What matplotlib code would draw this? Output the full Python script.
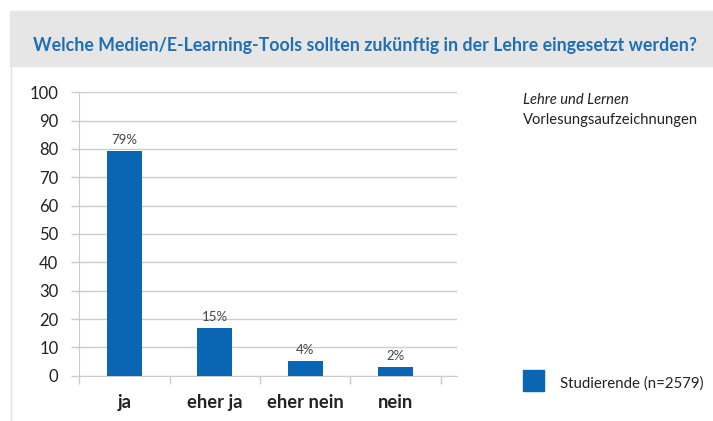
import matplotlib
matplotlib.use("Agg")
import matplotlib.pyplot as plt
from matplotlib.patches import Rectangle
from matplotlib.lines import Line2D

categories = ["ja", "eher ja", "eher nein", "nein"]
values = [79.3, 16.9, 5.3, 3.0]
value_labels = ["79%", "15%", "4%", "2%"]
y_ticks = [0, 10, 20, 30, 40, 50, 60, 70, 80, 90, 100]

title = "Welche Medien/E-Learning-Tools sollten zukünftig in der Lehre eingesetzt werden?"
side_heading = "Lehre und Lernen"
side_topic = "Vorlesungsaufzeichnungen"
series_name = "Studierende (n=2579)"

BAR = "#0a66b2"
TITLE_BLUE = "#1f6fb5"
GRID = "#cccccc"
TEXT = "#222222"

plt.rcParams["font.family"] = ["Lato", "DejaVu Sans"]

W, H = 713, 421
fig = plt.figure(figsize=(W / 100, H / 100), dpi=100)
fig.patch.set_facecolor("white")


def fx(px):
    return px / W


def fy(py):
    return 1 - py / H


# title band and left border
fig.patches.append(Rectangle((fx(10), fy(66)), fx(713 - 10), 55 / H,
                             transform=fig.transFigure, color="#e6e6e6", zorder=0))
fig.lines.append(Line2D([fx(11), fx(11)], [fy(66), 0], transform=fig.transFigure,
                        color="#e0e0e0", lw=1))
t = fig.text(fx(33), fy(45), title, color=TITLE_BLUE, fontsize=11.5,
             fontweight="bold", ha="left", va="center")

ax = fig.add_axes([fx(79.3), fy(375.7), fx(457.3 - 79.3), (375.7 - 92.3) / H])
x = list(range(len(categories)))
ax.bar(x, values, width=0.39, color=BAR, zorder=3)
for xi, v, lab in zip(x, values, value_labels):
    ax.annotate(lab, (xi, v), xytext=(0, 3.5), textcoords="offset points",
                ha="center", va="bottom", fontsize=9.5, color="#444444")

ax.set_xlim(-0.5, 3.684)
ax.set_ylim(0, 100)
ax.set_yticks(y_ticks)
ax.set_xticks(x)
ax.set_xticklabels(categories, fontsize=13.2, fontweight="bold", color=TEXT)
ax.set_xticks([-0.5, 0.5, 1.5, 2.5, 3.5], minor=True)
ax.tick_params(axis="x", which="major", length=0, pad=13)
ax.tick_params(axis="x", which="minor", length=6, color=GRID, width=1)
ax.tick_params(axis="y", length=6, color=GRID, width=1, pad=9, labelsize=12,
               labelcolor=TEXT)
ax.yaxis.grid(True, color=GRID, lw=1, zorder=0)
for s in ["top", "right"]:
    ax.spines[s].set_visible(False)
for s in ["left", "bottom"]:
    ax.spines[s].set_color(GRID)

fig.text(fx(522.7), fy(100), side_heading, fontsize=10.6, style="italic",
         color=TEXT, ha="left", va="center")
fig.text(fx(522.7), fy(120), side_topic, fontsize=10.6, color=TEXT,
         ha="left", va="center")
fig.patches.append(Rectangle((fx(523.3), fy(390.7)), fx(20.7), 20.7 / H,
                             transform=fig.transFigure, color=BAR))
fig.text(fx(560), fy(384), series_name, fontsize=10.8, color=TEXT,
         ha="left", va="center")

# fit title width to the reference layout
fig.canvas.draw()
r = fig.canvas.get_renderer()
w = t.get_window_extent(r).width
t.set_fontsize(11.5 * 660 / w)

fig.savefig("out.png", dpi=100)
